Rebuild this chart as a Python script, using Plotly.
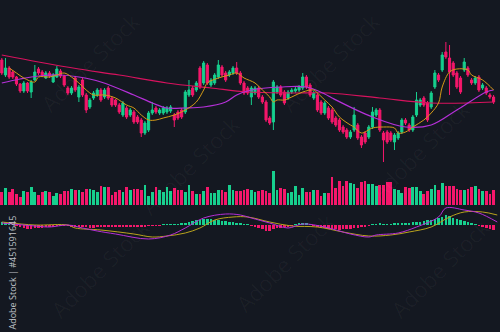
import plotly.graph_objects as go

# ---------------- data ----------------
opens = [140,125,132,128,123,116,109,117,108,120,131,128,122,127,118,123,129,124,112,107,
         122,103,120,105,93,102,105,110,103,112,102,100,95,85,92,85,88,83,80,67,
         70,87,92,87,87,88,89,85,88,90,88,105,112,110,132,117,135,115,117,123,
         133,127,125,127,132,127,117,112,103,107,112,103,98,82,78,108,113,108,102,108,
         109,110,112,123,115,102,105,98,87,92,90,82,80,73,70,63,70,75,63,67,
         63,73,85,90,67,68,67,58,62,68,80,75,70,85,95,102,97,93,113,125,
         130,148,142,137,127,122,130,132,120,117,123,112,112,105,103]
closes = [127,132,123,123,116,109,117,109,118,128,127,125,127,124,125,131,124,115,107,112,
          110,113,105,90,100,107,110,100,110,102,95,95,88,97,83,90,78,78,67,77,
          87,90,88,90,92,92,93,80,82,83,108,110,105,117,113,137,117,120,125,135,
          125,120,128,132,127,117,107,107,112,112,103,98,80,77,118,113,105,97,108,110,
          111,113,123,113,105,107,90,87,97,82,78,75,70,68,63,68,85,62,55,58,
          73,88,90,70,60,58,60,65,67,80,77,70,83,100,100,95,80,107,127,120,
          145,143,128,125,113,108,138,125,117,122,110,115,107,103,98]
highs = [142,142,134,130,124,117,119,118,120,135,133,130,129,129,127,134,131,125,114,114,
         124,115,122,107,102,109,112,112,112,114,104,101,97,99,94,92,90,85,82,79,
         89,98,94,92,94,94,95,87,90,92,110,120,114,119,134,139,137,122,127,140,
         135,129,130,134,138,129,119,114,114,114,114,105,100,84,120,115,115,110,110,112,
         113,115,127,125,117,109,107,100,99,94,92,84,82,75,72,70,93,77,65,69,
         75,93,92,92,69,70,69,67,69,82,82,77,85,108,102,104,99,109,130,127,
         148,158,155,139,129,124,142,134,122,124,125,117,114,107,105]
lows = [125,123,121,121,114,107,107,107,102,119,125,123,121,122,117,122,122,113,105,105,
        108,98,103,87,91,100,103,98,101,100,93,93,86,83,81,83,76,76,63,65,
        68,85,86,85,85,86,87,73,80,81,86,103,103,108,111,115,115,113,115,121,
        123,118,123,125,125,115,105,105,95,105,101,96,78,75,70,106,103,95,100,106,
        107,108,110,111,103,100,88,85,85,80,76,73,68,66,61,61,68,60,52,56,
        61,71,83,68,38,56,58,50,60,66,75,68,68,83,93,93,78,91,111,118,
        128,141,105,123,111,106,128,123,115,115,108,110,105,101,96]

volume = [13.3,16.7,12.7,16,11,7.7,13.7,13.3,17.7,12.7,10,13.3,13.7,12.7,9.3,12,11,13.7,14.3,16,
          15.3,15.3,12.7,16,16,15.3,13.3,19.3,17.7,17.7,10,13.3,15.3,12.7,17.7,15,16,16,15,20.3,
          9.3,12.7,18.3,15.3,12.7,17.7,14.3,17,15,15,12.7,20,14.3,11,11,13.7,17.7,12,11.7,15,
          15,12.7,20,15.3,13.7,13.7,15.3,16,
          15,13.3,13.7,15,14.3,12,34.3,15.3,16.7,16,11.7,13.3,18.7,10.3,17,13.3,12.7,15.3,15,9.3,
          11.7,11.7,27.7,17,23.7,19.3,24.3,22,21,16.7,23.3,24.3,21,21,19.3,20.3,20.3,22.7,22.7,16,
          15.3,12,17.7,17,18.3,18.3,14.3,11,14.3,16,20.3,15.3,21.7,18.7,19.3,19.3,16,15.3,15.3,16,
          17.7,19.3,16,13.7,14.3,11,15]

macd_hist = [3,3,2,1,-1,
             -2,-3,-4,-4,-3,-3,-3,-2,-2,-2,-1,-1,
             -1,-1,-2,-2,-2,-2,-2,-3,-3,-2,-2,-2,-2,-2,-2,-2,-2,-2,-2,-2,-2,-2,-2,-1,-1,-1,-1,
             1,1,1,1,1,2,2,
             3,4,5,5,6,6,6,5,5,4,4,3,3,2,2,1,1,
             -1,-2,-3,-4,-6,-6,-4,-3,-3,-2,-2,-1,1,2,2,2,1,
             -1,-2,-3,-3,-4,-4,-4,-5,-4,-4,-4,-3,-3,-2,-2,-1,
             1,1,2,1,1,1,2,2,2,2,
             2,3,3,3,4,5,5,6,7,8,10,9,7,6,5,4,3,2,1,
             -1,-2,-3,-4,-5]

# moving averages (sampled at candle indices)
ma_short_idx = [2,4,6,9,10,13,15,17,19,21,23,25,28,31,34,36,38,40,42,44,47,50,53,55,56,59,62,64,66,
                69,71,73,74,75,77,79,82,85,86,88,90,92,95,96,98,101,104,107,108,110,112,115,117,
                119,120,122,124,127,128,131,134]
ma_short_val = [132,127,122,118,123,123,125,127,123,117,110,105,105,102,95,92,85,80,80,82,85,90,98,110,
                117,122,125,127,122,117,110,103,98,100,100,103,108,110,107,100,93,83,75,73,67,72,
                73,72,67,68,73,80,87,97,113,128,131,130,125,120,110]
ma_mid_idx = [0,5,10,16,21,27,36,41,45,50,55,61,64,68,76,83,88,90,101,110,117,124,132,134]
ma_mid_val = [117,121,124,125,123,118,105,97,92,92,93,98,105,110,113,113,106,102,83,73,75,90,108,110]
ma_long_idx = [0,10,21,32,45,57,67,79,89,103,117,134]
ma_long_val = [145,138,131,125,117,112,108,107,107,102,97,98]

dif_idx = [0,9,13,18,22,26,31,40,46,50,55,61,65,68,73,78,82,88,95,100,102,108,113,119,121,126,130,135]
dif_val = [2,-1,-2,0,-3,-6,-9,-14,-10,-3,7,11,10,7,2,-3,1,-2,-9,-12,-10,-8,-2,8,17,15,12,3]
dea_idx = [0,9,18,20,27,36,41,45,50,54,58,63,67,73,79,86,93,100,106,111,117,122,126,131,135]
dea_val = [3,0,0,-3,-5,-9,-12,-11,-8,-3,5,8,8,3,-1,-2,-7,-11,-10,-7,-2,8,13,13,10]

# ---------------- styling ----------------
BG = "#141821"
UP = "#17cf8e"
DOWN = "#f5176b"
n = len(closes)
x = list(range(n))
colors = [UP if c >= o else DOWN for o, c in zip(opens, closes)]
hist_colors = [UP if v >= 0 else DOWN for v in macd_hist]

fig = go.Figure()

# volume
fig.add_trace(go.Bar(x=x, y=volume, marker_color=colors, marker_line_width=0,
                     width=0.74, yaxis="y2", showlegend=False))
# macd histogram
fig.add_trace(go.Bar(x=x, y=macd_hist, marker_color=hist_colors, marker_line_width=0,
                     width=0.7, yaxis="y3", showlegend=False))
fig.add_trace(go.Scatter(x=dea_idx, y=dea_val, mode="lines", yaxis="y3",
                         line=dict(color="#b9a21d", width=1, shape="spline"), showlegend=False))
fig.add_trace(go.Scatter(x=dif_idx, y=dif_val, mode="lines", yaxis="y3",
                         line=dict(color="#b52fd6", width=1, shape="spline"), showlegend=False))

# moving averages
fig.add_trace(go.Scatter(x=ma_long_idx, y=ma_long_val, mode="lines",
                         line=dict(color="#d8125e", width=1.2, shape="spline"), showlegend=False))
fig.add_trace(go.Scatter(x=ma_mid_idx, y=ma_mid_val, mode="lines",
                         line=dict(color="#b530d8", width=1.2, shape="spline"), showlegend=False))
fig.add_trace(go.Scatter(x=ma_short_idx, y=ma_short_val, mode="lines",
                         line=dict(color="#d49a17", width=1, shape="spline"), showlegend=False))

# candles
fig.add_trace(go.Candlestick(x=x, open=opens, high=highs, low=lows, close=closes,
                             increasing=dict(line=dict(color=UP, width=1), fillcolor=UP),
                             decreasing=dict(line=dict(color=DOWN, width=1), fillcolor=DOWN),
                             whiskerwidth=0, showlegend=False))

# watermarks
wm = [(90, 62), (330, 62), (190, 165), (420, 150), (100, 268), (285, 262), (440, 268)]
annotations = []
for (px, py) in wm:
    annotations.append(dict(x=px / 500, y=1 - py / 332, xref="paper", yref="paper",
                            text="Adobe Stock", showarrow=False, textangle=-45,
                            xanchor="center", yanchor="middle",
                            font=dict(family="Open Sans", size=22, color="rgba(255,255,255,0.035)")))
annotations.append(dict(x=11.5 / 500, y=1 - 273 / 332, xref="paper", yref="paper",
                        text="Adobe Stock | #451591645", showarrow=False, textangle=-90,
                        xanchor="center", yanchor="middle",
                        font=dict(family="Open Sans", size=9, color="#bfc2c8")))

fig.update_layout(
    width=500, height=332,
    margin=dict(l=0, r=0, t=0, b=0),
    paper_bgcolor=BG, plot_bgcolor=BG,
    showlegend=False,
    bargap=0,
    boxgap=0.18,
    xaxis=dict(range=[-0.49, 135.75], visible=False, rangeslider=dict(visible=False),
               fixedrange=True),
    yaxis=dict(range=[-132, 200], visible=False, domain=[0, 1]),
    yaxis2=dict(range=[-127, 205], visible=False, overlaying="y"),
    yaxis3=dict(range=[-107, 225], visible=False, overlaying="y"),
    annotations=annotations,
)

fig.write_html("out.html")
